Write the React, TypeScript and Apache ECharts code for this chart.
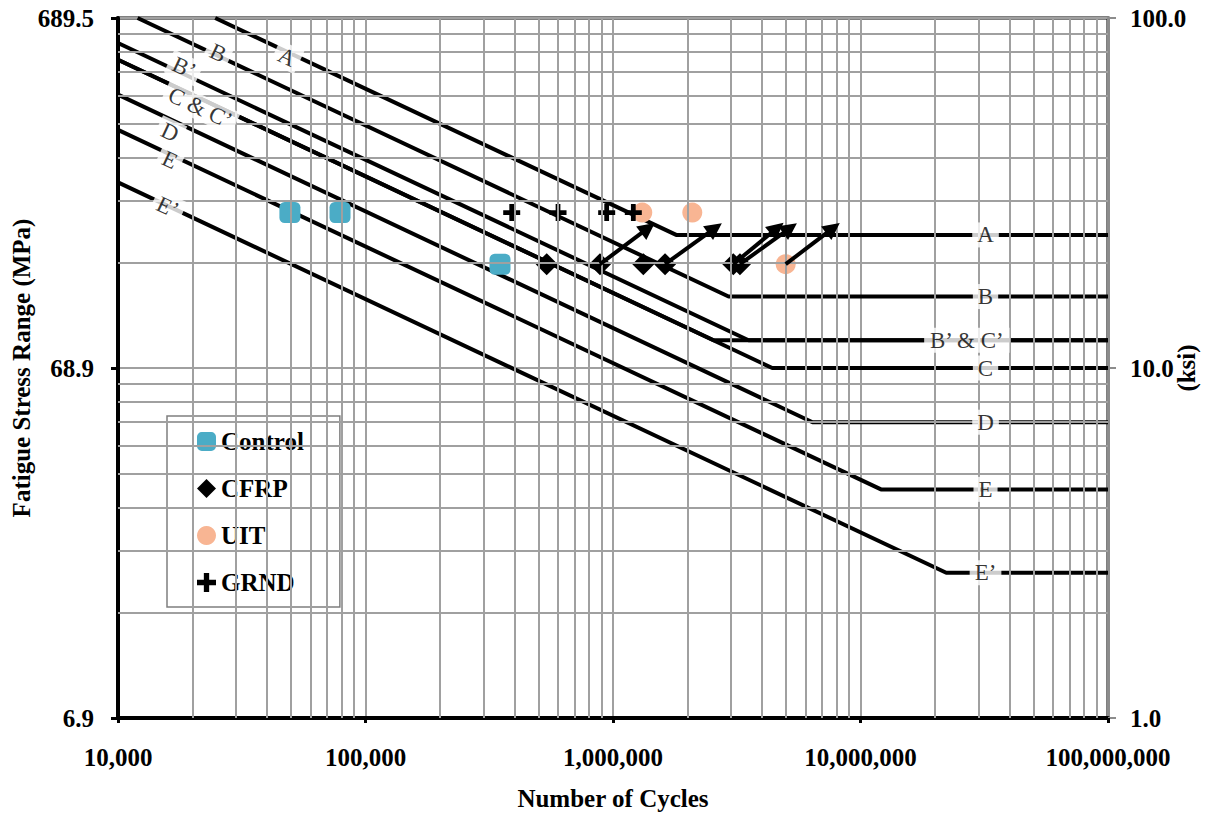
import React, { useEffect, useRef } from 'react';
import * as echarts from 'echarts';

// Tick labels
const mpaTickLabels = ['6.9', '68.9', '689.5'];
const ksiTickLabels = ['1.0', '10.0', '100.0'];

// Minor gridline definition
const minorMultipliers = [2, 3, 4, 5, 6, 7, 8, 9];
const xDecades = [1e4, 1e5, 1e6, 1e7];
const yDecades = [1, 10];

// AASHTO detail category curves: [cycles, stress range (ksi)]
const curveA = [[24700, 100], [1.8e6, 24], [1e8, 24]];
const curveB = [[12000, 100], [2.93e6, 16], [1e8, 16]];
const curveBp = [[1e4, 84.8], [3.53e6, 12], [1e8, 12]];
const curveC = [[1e4, 76], [4.4e6, 10], [1e8, 10]];
const curveCp = [[1e4, 76], [2.55e6, 12], [1e8, 12]];
const curveD = [[1e4, 60.4], [6.4e6, 7], [1e8, 7]];
const curveE = [[1e4, 47.9], [1.21e7, 4.5], [1e8, 4.5]];
const curveEp = [[1e4, 33.9], [2.22e7, 2.6], [1e8, 2.6]];
const curves = [curveA, curveB, curveBp, curveC, curveCp, curveD, curveE, curveEp];

// Curve labels: [text, cycles, ksi]
const slantedLabels: [string, number, number][] = [
  ['A', 48200, 77.4],
  ['B', 25400, 79.4],
  ['B’', 18500, 72.0],
  ['C & C’', 21500, 55.4],
  ['D', 16200, 47.2],
  ['E', 16200, 39.3],
  ['E’', 15900, 28.8],
];
const flatLabels: [string, number, number][] = [
  ['A', 3.2e7, 24],
  ['B', 3.2e7, 16],
  ['B’ & C’', 2.69e7, 12],
  ['C', 3.2e7, 10],
  ['D', 3.2e7, 7],
  ['E', 3.2e7, 4.5],
  ['E’', 3.2e7, 2.6],
];

// Test data: [cycles, ksi]
const controlData = [[49500, 27.8], [78900, 27.8], [349500, 19.8]];
const cfrpData = [[539700, 19.8], [886000, 19.8], [1326000, 19.8], [1623000, 19.8], [3062000, 19.8], [3258000, 19.8]];
const uitData = [[1313000, 27.8], [2091000, 27.8], [4986000, 19.8]];
const grndData = [[389700, 27.8], [599600, 27.8], [942900, 27.8], [1208000, 27.8]];

// Run-out arrows: [[start], [end]]
const runoutArrows = [
  [[886000, 19.8], [1385000, 25.1]],
  [[1623000, 19.8], [2582000, 25.1]],
  [[3062000, 19.8], [4599000, 25.1]],
  [[3258000, 19.8], [5190000, 25.1]],
  [[4986000, 19.8], [7742000, 25.1]],
];

const FONT = 'Liberation Serif';
const GRID_GRAY = '#A0A0A0';
const PLUS = 'path://M3.6,0 H6.4 V3.6 H10 V6.4 H6.4 V10 H3.6 V6.4 H0 V3.6 H3.6 Z';

export default function App() {
  const ref = useRef<HTMLDivElement>(null);

  useEffect(() => {
    if (!ref.current) return;
    const chart = echarts.init(ref.current, undefined, { renderer: 'svg' });

    const xMinor: number[] = [];
    xDecades.forEach((d) => minorMultipliers.forEach((m) => xMinor.push(d * m)));
    const yMinor: number[] = [];
    yDecades.forEach((d) => minorMultipliers.forEach((m) => yMinor.push(d * m)));

    const boldText = { fontFamily: FONT, fontWeight: 'bold' as const, fontSize: 25, color: '#000' };

    const labelSeries = (items: [string, number, number][], rotate: number) => ({
      type: 'scatter',
      silent: true,
      z: 6,
      symbolSize: 1,
      itemStyle: { color: 'rgba(0,0,0,0)' },
      data: items.map(([t, n, s]) => ({ name: t, value: [n, s] })),
      label: {
        show: true,
        position: 'inside',
        formatter: '{b}',
        rotate,
        fontFamily: FONT,
        fontSize: 23,
        color: '#000',
        backgroundColor: '#fff',
        padding: [1, 5],
        lineHeight: 23,
      },
    });

    chart.setOption({
      animation: false,
      grid: {
        left: 118,
        right: 100,
        top: 18,
        bottom: 103,
        outerBoundsMode: 'none',
        containLabel: false,
        show: true,
        borderColor: '#000',
        borderWidth: 3,
        backgroundColor: '#fff',
      },
      legend: {
        orient: 'vertical',
        left: 167,
        top: 416,
        padding: [13, 36, 12, 30],
        itemGap: 22,
        itemWidth: 19,
        itemHeight: 19,
        backgroundColor: '#fff',
        borderColor: '#7f7f7f',
        borderWidth: 1.5,
        textStyle: { ...boldText, lineHeight: 25 },
        data: ['Control', 'CFRP', 'UIT', 'GRND'],
        selectedMode: false,
      },
      xAxis: {
        type: 'log',
        logBase: 10,
        min: 1e4,
        max: 1e8,
        splitNumber: 4,
        axisLine: { lineStyle: { color: '#000', width: 4 } },
        axisTick: { show: true, inside: false, length: 5, lineStyle: { color: '#000', width: 3 } },
        axisLabel: {
          ...boldText,
          margin: 27,
          showMinLabel: true,
          showMaxLabel: true,
          formatter: (v: number) => Math.round(v).toLocaleString('en-US'),
        },
        splitLine: { show: true, lineStyle: { color: GRID_GRAY, width: 2 } },
        name: 'Number of Cycles',
        nameLocation: 'middle',
        nameGap: 68,
        nameMoveOverlap: false,
        nameTextStyle: boldText,
      },
      yAxis: [
        {
          type: 'log',
          logBase: 10,
          min: 1,
          max: 100,
          splitNumber: 2,
          position: 'left',
          axisLine: { show: true, lineStyle: { color: '#000', width: 4 } },
          axisTick: { show: true, inside: false, length: 7, lineStyle: { color: '#000', width: 3 } },
          axisLabel: {
            ...boldText,
            margin: 24,
            formatter: (v: number) => mpaTickLabels[Math.round(Math.log10(v))],
          },
          splitLine: { show: true, lineStyle: { color: GRID_GRAY, width: 2 } },
          name: 'Fatigue Stress Range (MPa)',
          nameLocation: 'middle',
          nameRotate: 90,
          nameGap: 84,
          nameMoveOverlap: false,
          nameTextStyle: boldText,
        },
        {
          type: 'log',
          logBase: 10,
          min: 1,
          max: 100,
          splitNumber: 2,
          position: 'right',
          axisLine: { show: true, lineStyle: { color: '#8c8c8c', width: 3 } },
          axisTick: { show: true, inside: false, length: 8, lineStyle: { color: '#8c8c8c', width: 2 } },
          axisLabel: {
            ...boldText,
            margin: 22,
            formatter: (v: number) => ksiTickLabels[Math.round(Math.log10(v))],
          },
          splitLine: { show: false },
          name: '(ksi)',
          nameLocation: 'middle',
          nameRotate: 90,
          nameGap: 66,
          nameMoveOverlap: false,
          nameTextStyle: boldText,
        },
      ],
      series: [
        {
          type: 'scatter',
          silent: true,
          z: 1,
          symbolSize: 0,
          data: [],
          markLine: {
            silent: true,
            symbol: 'none',
            label: { show: false },
            lineStyle: { color: GRID_GRAY, width: 2, type: 'solid' },
            data: [
              ...xMinor.map((v) => ({ xAxis: v })),
              ...yMinor.map((v) => ({ yAxis: v })),
            ],
          },
        },
        ...curves.map((c) => ({
          type: 'line',
          silent: true,
          z: 3,
          symbol: 'none',
          data: c,
          lineStyle: { color: '#000', width: 4 },
        })),
        {
          name: 'Control',
          type: 'scatter',
          z: 4,
          symbol: 'roundRect',
          symbolSize: 21,
          itemStyle: { color: '#4BACC6', opacity: 1 },
          data: controlData,
        },
        {
          name: 'CFRP',
          type: 'scatter',
          z: 4,
          symbol: 'diamond',
          symbolSize: 22,
          itemStyle: { color: '#000', opacity: 1 },
          data: cfrpData,
        },
        {
          name: 'UIT',
          type: 'scatter',
          z: 4,
          symbol: 'circle',
          symbolSize: 20,
          itemStyle: { color: '#F8B593', opacity: 1 },
          data: uitData,
        },
        {
          name: 'GRND',
          type: 'scatter',
          z: 4,
          symbol: PLUS,
          symbolSize: 17,
          itemStyle: { color: '#000', opacity: 1 },
          data: grndData,
        },
        {
          type: 'lines',
          coordinateSystem: 'cartesian2d',
          silent: true,
          z: 5,
          symbol: ['none', 'triangle'],
          symbolSize: 17,
          lineStyle: { color: '#000', width: 4, opacity: 1, curveness: 0 },
          data: runoutArrows.map((a) => ({ coords: a })),
        },
        labelSeries(slantedLabels, -25),
        labelSeries(flatLabels, 0),
      ],
    });

    return () => chart.dispose();
  }, []);

  return (
    <div
      ref={ref}
      style={{ position: 'absolute', left: 0, top: 0, width: 1208, height: 821, background: '#fff' }}
    />
  );
}
